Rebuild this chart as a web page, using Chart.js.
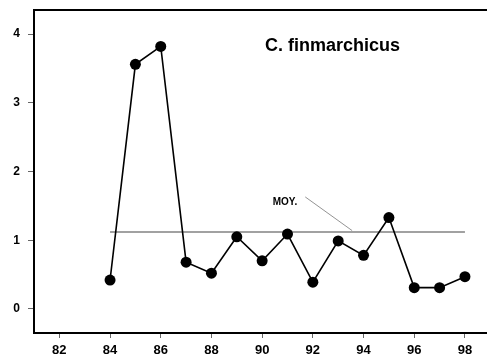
<!DOCTYPE html>
<html>
<head>
<meta charset="utf-8">
<script src="https://cdn.jsdelivr.net/npm/chart.js@4"></script>
<style>
  html, body { margin: 0; padding: 0; background: #fff; }
  #wrap { width: 487px; height: 360px; }
</style>
</head>
<body>
<div id="wrap"><canvas id="chart" width="487" height="360"></canvas></div>
<script>
const years = [84, 85, 86, 87, 88, 89, 90, 91, 92, 93, 94, 95, 96, 97, 98];
const values = [0.42, 3.56, 3.82, 0.68, 0.52, 1.05, 0.70, 1.09, 0.39, 0.99, 0.78, 1.33, 0.31, 0.31, 0.47];
const meanValue = 1.12;
const xTicks = [82, 84, 86, 88, 90, 92, 94, 96, 98];
const yTicks = [0, 1, 2, 3, 4];
const title = "C. finmarchicus";
const meanLabel = "MOY.";
// label position and leader line, in data units
const meanLabelAt = [90.9, 1.55];
const leader = [[91.7, 1.63], [93.55, 1.14]];

const FONT = "'Liberation Sans', Arial, sans-serif";

const annotations = {
  id: "annotations",
  afterDatasetsDraw(chart) {
    const { ctx, chartArea, scales: { x, y } } = chart;
    ctx.save();
    // top frame line
    ctx.strokeStyle = "#000";
    ctx.lineWidth = 2;
    ctx.beginPath();
    ctx.moveTo(chartArea.left - 1, chartArea.top);
    ctx.lineTo(chartArea.right, chartArea.top);
    ctx.stroke();

    // title
    ctx.fillStyle = "#000";
    ctx.font = "bold 18px " + FONT;
    ctx.textAlign = "left";
    ctx.textBaseline = "alphabetic";
    ctx.fillText(title, 265, 51);

    // MOY. label + leader
    ctx.font = "bold 10px " + FONT;
    ctx.textAlign = "center";
    ctx.textBaseline = "middle";
    ctx.fillText(meanLabel, x.getPixelForValue(meanLabelAt[0]), y.getPixelForValue(meanLabelAt[1]));
    ctx.strokeStyle = "#777";
    ctx.lineWidth = 0.8;
    ctx.beginPath();
    ctx.moveTo(x.getPixelForValue(leader[0][0]), y.getPixelForValue(leader[0][1]));
    ctx.lineTo(x.getPixelForValue(leader[1][0]), y.getPixelForValue(leader[1][1]));
    ctx.stroke();
    ctx.restore();
  }
};

new Chart(document.getElementById("chart"), {
  type: "line",
  data: {
    datasets: [
      {
        data: years.map((yr, i) => ({ x: yr, y: values[i] })),
        borderColor: "#000",
        borderWidth: 1.6,
        pointRadius: 5.5,
        pointBackgroundColor: "#000",
        pointBorderColor: "#000",
        pointBorderWidth: 0,
        tension: 0
      },
      {
        data: [{ x: years[0], y: meanValue }, { x: years[years.length - 1], y: meanValue }],
        borderColor: "#444",
        borderWidth: 1.2,
        pointRadius: 0,
        tension: 0
      }
    ]
  },
  options: {
    responsive: false,
    animation: false,
    layout: { autoPadding: false, padding: { top: 10, left: 0, right: 0, bottom: 0 } },
    plugins: { legend: { display: false }, tooltip: { enabled: false }, title: { display: false } },
    scales: {
      x: {
        type: "linear",
        min: 81.0,
        max: 98.87,
        afterBuildTicks: s => { s.ticks = xTicks.map(v => ({ value: v })); },
        afterFit: s => { s.height = 27; s.paddingLeft = 0; s.paddingRight = 0; },
        grid: { drawOnChartArea: false, drawTicks: true, tickLength: 5, tickColor: "#666", tickWidth: 1 },
        border: { display: true, color: "#000", width: 2 },
        ticks: { color: "#000", padding: 5, maxRotation: 0, font: { family: FONT, size: 13, weight: "bold" } }
      },
      y: {
        min: -0.35,
        max: 4.35,
        afterBuildTicks: s => { s.ticks = yTicks.map(v => ({ value: v })); },
        afterFit: s => { s.width = 34; s.paddingTop = 0; s.paddingBottom = 0; },
        grid: { drawOnChartArea: false, drawTicks: true, tickLength: 6, tickColor: "#666", tickWidth: 1 },
        border: { display: true, color: "#000", width: 2 },
        ticks: { color: "#000", padding: 8, font: { family: FONT, size: 12, weight: "bold" } }
      }
    }
  },
  plugins: [annotations]
});
</script>
</body>
</html>
